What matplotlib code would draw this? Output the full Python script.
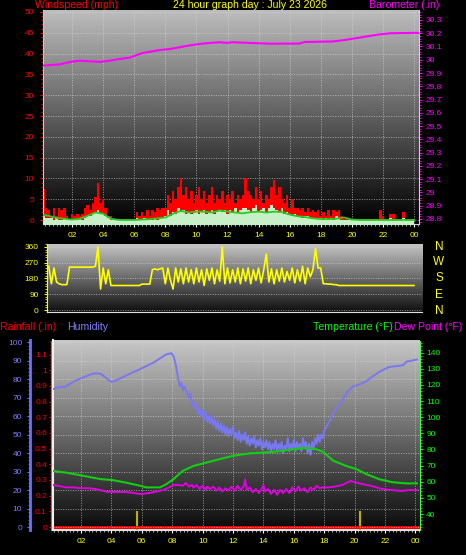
import numpy as np
import matplotlib
matplotlib.use('Agg')
import matplotlib.pyplot as plt
from matplotlib.ticker import MultipleLocator, FixedLocator

plt.rcParams['font.family'] = ['Liberation Sans', 'DejaVu Sans']

# ---------------- data ----------------
tick_hours = [2, 4, 6, 8, 10, 12, 14, 16, 18, 20, 22, 24]
tick_labels = ['02', '04', '06', '08', '10', '12', '14', '16', '18', '20', '22', '00']

# wind, 10-minute samples from 00:00 to 24:00
wind_gust = [3, 7.5, 3, 2.5, 1, 3, 1, 3, 2.5, 3, 1,
             0, 1.5, 1, 1.5, 1, 1.5,
             3, 3.5, 2.5, 4, 5.5, 9, 4, 5, 3, 1, 1,
             0, 0, 0, 0, 0, 0, 0, 0, 0,
             2, 1, 2, 1, 2.5, 1, 2.5, 2, 3, 2.5, 3,
             3, 6, 4, 7, 5, 8, 10, 6, 8, 5, 7, 4, 6,
             8, 5, 7, 4, 6, 8, 4, 6, 5, 7, 4, 6,
             5, 7, 4, 6, 5, 6, 10, 7, 6, 5, 8, 5,
             7, 4, 6, 5, 8, 9.5, 6, 8, 5, 4, 6,
             3, 5, 3, 3, 2.5, 3, 2, 3, 2, 2.5, 2, 2.5, 1, 2, 1, 2.5, 1, 2.5, 2, 2.5, 1,
             0, 0, 0, 0, 0, 0, 0, 0, 0, 0, 0, 0, 0, 0,
             2.5, 1, 0, 0, 1.5, 1.5, 0, 0, 0, 2, 0, 0, 0, 0]
wind_avg = [1.5, 1, 0.5, 0.5,
            0.5, 0, 0.5, 0, 0, 0.5, 0,
            0, 0, 0, 0, 0.5, 0,
            0.5, 1, 1, 1.5, 2, 2.5, 1.5, 1.5, 1,
            0.5, 0, 0, 0, 0, 0, 0, 0, 0, 0, 0,
            0.5, 0, 0, 0.5, 0, 0, 0, 0.5, 0, 0.5, 0.5,
            1, 2.5, 1, 2, 1.5, 3, 2, 2.5, 1.5, 2, 1.5, 2, 2.5,
            1.5, 2, 2.5, 1.5, 2, 2.5, 1.5, 2, 2.5, 2, 2.5, 1.5, 2.5, 2, 3, 2, 2.5, 3,
            3, 2.5, 2, 3, 3.5, 2, 2.5, 3, 2, 3, 3.5, 3, 2.5, 2, 3, 1.5, 2,
            1.5, 1, 1.5, 1, 1, 0.5, 1, 1, 0.5, 0.5, 0.5, 0.5, 0.5, 0, 0.5, 0, 0.5, 0, 1, 0.5, 0,
            0, 0, 0, 0, 0, 0, 0, 0, 0, 0, 0, 0, 0, 0, 0, 0, 0, 0, 0.5, 0, 0, 0, 0, 0.5, 0, 0, 0, 0]
# smoothed average wind, 30-minute samples
wind_line = [1.3, 1.0, 0.5, 0.3, 0.1, 0.3, 1.0, 1.8, 1.5, 0.3, 0, 0, 0, 0.1, 0.2, 0.4,
             0.6, 1.5, 2.2, 1.8, 2.0, 2.0, 1.8, 2.3, 2.0, 1.8, 1.6, 1.9, 2.0, 1.8, 2.0, 1.9,
             1.3, 0.9, 0.7, 0.4, 0.2, 0.2, 0.3, 0.6, 0.1, 0, 0, 0, 0, 0, 0, 0, 0]
wind_dir = [250, 255, 250, 250, 150, 240, 160, 150, 145, 145, 145,
            245, 245, 245, 245, 245, 245, 245, 245, 245, 245,
            250, 360, 120, 240, 150, 230, 140,
            140, 140, 140, 140, 140, 140, 140, 140, 140, 140, 140,
            148, 148, 148, 148,
            230, 235, 230, 235, 240,
            150, 240, 170, 120, 240, 160, 235, 150, 240, 160, 230, 150,
            240, 160, 230, 140, 235, 170, 240, 150, 230, 165, 360, 150,
            240, 155, 230, 160, 240, 150, 235, 165, 240, 150, 230, 170,
            240, 155, 230, 320, 160, 235, 150, 230, 165, 240, 160, 220,
            170, 240, 155, 230, 165, 250, 150, 240, 190, 230, 350, 240,
            240, 150, 150, 148, 148, 145, 145, 140,
            140, 140, 140, 140, 140, 140, 140, 140, 140, 140, 140, 140, 140, 140, 140,
            140, 140, 140, 140, 140, 140, 140, 140, 140, 140, 140, 140, 140, 140]

baro_hours = [0.13, 1.2, 1.9, 2.5, 3.0, 3.8, 4.3, 5.1, 5.7, 6.4, 7.0, 7.7, 8.3, 8.9, 9.6,
              10.2, 10.9, 11.5, 11.9, 12.35, 13.0, 14.7, 16.6, 17.0, 18.8, 19.6, 20.5,
              21.7, 22.5, 24.3]
baro_vals = [29.956, 29.965, 29.984, 29.993, 29.989, 29.984, 29.991, 30.006, 30.016,
             30.046, 30.061, 30.074, 30.081, 30.094, 30.109, 30.119, 30.127, 30.132,
             30.127, 30.132, 30.129, 30.121, 30.122, 30.134, 30.138, 30.150, 30.167,
             30.190, 30.200, 30.203]
baro_ticks = [28.8, 28.9, 29.0, 29.1, 29.2, 29.3, 29.4, 29.5, 29.6, 29.7, 29.8, 29.9,
              30.0, 30.1, 30.2, 30.3]
baro_labels = ['28.8', '28.9', '29', '29.1', '29.2', '29.3', '29.4', '29.5', '29.6',
               '29.7', '29.8', '29.9', '30', '30.1', '30.2', '30.3']

hum_hours = [0.15, 0.5, 1.0, 1.5, 2.0, 2.5, 2.8, 3.25, 3.6, 3.8, 4.0, 4.3, 4.6, 5.0, 5.4,
             5.8, 6.3, 6.8, 7.2, 7.6, 7.95, 8.1, 8.25, 8.4, 8.5, 8.6, 8.7, 8.8, 8.95,
             9.1, 9.2, 9.3, 9.4, 9.5, 9.6, 9.7, 9.8, 9.9, 10.0, 10.1, 10.2, 10.3, 10.4,
             10.5, 10.6, 10.7, 10.8, 10.9, 11.0, 11.1, 11.2, 11.3, 11.4, 11.5, 11.6,
             11.7, 11.8, 11.9, 12.0, 12.1, 12.2, 12.3, 12.4, 12.5, 12.6, 12.7, 12.8,
             12.9, 13.0, 13.1, 13.2, 13.3, 13.4, 13.5, 13.6, 13.7, 13.8, 13.9, 14.0,
             14.1, 14.2, 14.3, 14.4, 14.5, 14.6, 14.7, 14.8, 14.9, 15.0, 15.1, 15.2,
             15.3, 15.4, 15.5, 15.6, 15.7, 15.8, 15.9, 16.0, 16.1, 16.2, 16.3, 16.4,
             16.5, 16.6, 16.7, 16.8, 16.9, 17.0, 17.1, 17.2, 17.3, 17.4, 17.5, 17.6,
             17.7, 17.8, 17.9, 18.0, 18.2, 18.4, 18.6, 18.8, 19.0, 19.3, 19.6, 19.9,
             20.3, 20.8, 21.2, 21.65, 22.0, 22.3, 22.8, 23.2, 23.4, 23.8, 24.1]
hum_vals = [74.5, 75.5, 76, 78.5, 80.5, 82, 83, 83, 81, 79.5, 78.5, 79.2, 80.4, 82, 83.6,
            85, 87, 89, 91.2, 93.3, 94, 92, 87, 80, 76, 78, 74, 76, 73,
            70, 72, 66, 68, 64, 66, 61, 64, 60, 63, 58, 62, 57, 60,
            56, 60, 55, 58, 53, 57, 52, 56, 51, 55, 50, 54,
            49, 53, 50, 54, 48, 51, 47, 52, 46, 50, 47, 51,
            45, 49, 44, 48, 45, 49, 43, 47, 44, 48, 42, 46,
            43, 47, 42, 46, 41, 45, 42, 47, 41, 45, 42, 46,
            40, 44, 42, 48, 41, 45, 42, 47, 41, 46, 42, 45,
            41, 48, 43, 46, 40, 45, 39, 46, 42, 48, 45, 50,
            46, 50, 48, 52, 55, 58, 62, 64, 66, 70, 74, 76,
            77, 79, 81.5, 84, 85.5, 86.6, 87, 87.5, 89.4, 90, 90.5]

temp_hours = [0.15, 1.06, 2.15, 3.25, 4.1, 5.0, 5.9, 6.3, 7.2, 7.6, 8.07, 8.7, 9.4, 10.3,
              11.15, 12.0, 13.1, 14.2, 15.3, 16.4, 17.0, 17.5, 17.9, 18.6, 19.45, 20.1,
              20.8, 21.65, 22.5, 23.4, 24.1]
temp_vals = [66.7, 65.6, 63.7, 61.7, 61, 59.4, 57.5, 56.5, 56.5, 58.4, 61.5, 66.8, 69.8, 72,
             74.1, 76.1, 77.6, 78.2, 79.2, 80.7, 80.8, 80.1, 78.7, 73, 69.8, 67.9,
             64.6, 61.5, 59.7, 59, 59]

dew_hours = [0.15, 0.5, 1.0, 1.5, 2.0, 2.5, 2.8, 3.2, 3.7, 4.2, 5.0, 5.5, 5.9, 6.5, 7.0,
             7.4, 7.8, 8.07, 8.4, 8.7, 8.9, 9.1, 9.3, 9.4, 9.6, 9.8, 10.0, 10.2, 10.3,
             10.5, 10.7, 10.9, 11.1, 11.3, 11.5, 11.7, 11.9, 12.1, 12.3, 12.5, 12.7,
             12.8, 12.9, 13.1, 13.3, 13.5, 13.7, 13.9, 14.0, 14.1, 14.3, 14.5, 14.7,
             14.9, 15.1, 15.3, 15.5, 15.7, 15.9, 16.1, 16.3, 16.5, 16.7, 16.9, 17.1,
             17.3, 17.5, 17.7, 17.9, 18.3, 18.7, 19.2, 19.5, 19.75, 20.3, 20.8, 21.2,
             21.6, 22.0, 22.5, 23.1, 23.5, 24.1]
dew_vals = [58, 57.5, 56.5, 56.5, 56, 56, 55.7, 55, 53.8, 53.7, 53.6, 53, 52.4, 53, 54,
            54.9, 56.5, 58, 58, 57.5, 59.3, 57, 58, 56.3, 58, 55.5, 57.5, 55, 57,
            55.5, 57, 54.5, 56.5, 54, 56, 54.5, 57, 54.5, 57.5, 55, 57,
            61.5, 55, 56.5, 53.5, 55.5, 53, 56, 58, 54, 55.5, 52.5, 55,
            52, 55, 53, 55.5, 53, 56.5, 54, 57, 54.5, 56, 53.5, 56.5,
            55, 57.5, 56, 56.5, 56.5, 57, 58, 59.5, 60.5, 59, 58, 57.2,
            56, 55.3, 54.8, 54.3, 54.8, 54.9]

rain_hours = [0, 24.5]
rain_vals = [0, 0]
rain_ticks = [0, 0.1, 0.2, 0.3, 0.4, 0.5, 0.6, 0.7, 0.8, 0.9, 1.0, 1.1]
rain_labels = ['0', '0.1', '0.2', '0.3', '0.4', '0.5', '0.6', '0.7', '0.8', '0.9', '1', '1.1']
tip_hours = [5.66, 20.33]
tip_vals = [0.1, 0.1]

# ---------------- figure ----------------
W, H = 466, 555
fig = plt.figure(figsize=(W / 100, H / 100), dpi=100, facecolor='black')


def px_axes(x0, y0, x1, y1):
    return fig.add_axes([x0 / W, 1 - y1 / H, (x1 - x0) / W, (y1 - y0) / H])


def gradient(ax, top, bottom):
    g = np.linspace(top, bottom, 256).reshape(-1, 1)
    ax.imshow(g, cmap='gray', vmin=0, vmax=1, extent=[0, 1, 0, 1],
              transform=ax.transAxes, aspect='auto', zorder=0,
              interpolation='bilinear')


def ftext(x, y, s, color, size=7.6, ha='left'):
    fig.text(x / W, 1 - y / H, s, color=color, fontsize=size, ha=ha, va='center')


GRID = dict(color='#d8d8d8', ls=(0, (1, 1.5)), lw=0.7, alpha=0.65)
TS = 6

# ---- top panel: wind speed + barometer ----
ax1 = px_axes(43, 10, 419, 224)
gradient(ax1, 0.74, 0.0)
hrs10 = np.arange(len(wind_gust)) / 6.0
hrs30 = np.arange(len(wind_line)) / 2.0
ax1.fill_between(hrs10, 0, wind_gust, step='mid', color='#ff0000', lw=0, zorder=2)
ax1.plot(hrs10, np.zeros(len(hrs10)), color='#ff0000', lw=1.5, zorder=2)
ax1.fill_between(hrs10, -5, wind_avg, step='mid', color='#c8f0c8', lw=0, zorder=3)
ax1.plot(hrs30, wind_line, color='#20d020', lw=1.3, zorder=4)
ax1.set_xlim(0.129, 24.32)
ax1.set_ylim(-0.96, 50.48)
ax1.set_axisbelow(True)
ax1.set_yticks(range(0, 51, 5))
ax1.yaxis.set_minor_locator(MultipleLocator(1))
ax1.xaxis.set_major_locator(FixedLocator(tick_hours))
ax1.set_xticklabels(tick_labels)
ax1.xaxis.set_minor_locator(MultipleLocator(0.25))
ax1.tick_params(axis='x', which='major', color='white', labelcolor='#ffff00',
                length=2, pad=4, labelsize=TS)
ax1.tick_params(axis='x', which='minor', color='#c0c0c0', length=1.5)
ax1.tick_params(axis='y', which='major', color='#ff0000', labelcolor='#ff0000',
                length=2.5, pad=4, labelsize=TS)
ax1.tick_params(axis='y', which='minor', color='#ff0000', length=1.5)
ax1.grid(True, which='major', **GRID)
for s in ['left', 'bottom']:
    ax1.spines[s].set_color('#d0d0d0')
ax1.spines['top'].set_visible(False)
ax1.spines['right'].set_visible(False)

ax1b = ax1.twinx()
ax1b.plot(baro_hours, baro_vals, color='#ff00ff', lw=1.5, zorder=5)
ax1b.set_ylim(28.762, 30.375)
ax1b.yaxis.set_major_locator(FixedLocator(baro_ticks))
ax1b.set_yticklabels(baro_labels)
ax1b.yaxis.set_minor_locator(MultipleLocator(0.02))
ax1b.tick_params(axis='y', which='major', color='#ff00ff', labelcolor='#ff00ff',
                 length=2.5, pad=2.5, labelsize=TS)
ax1b.tick_params(axis='y', which='minor', color='#ff00ff', length=1.5)
for s in ['left', 'top', 'bottom']:
    ax1b.spines[s].set_visible(False)
ax1b.spines['right'].set_color('#ffb0ff')

# ---- middle panel: wind direction ----
ax2 = px_axes(47, 244, 422, 312)
gradient(ax2, 0.77, 0.06)
ax2.plot(hrs10, wind_dir, color='#ffff00', lw=1.2, zorder=3)
ax2.set_xlim(0.386, 24.52)
ax2.set_ylim(-11.4, 377)
ax2.set_axisbelow(True)
ax2.set_yticks([0, 90, 180, 270, 360])
ax2.yaxis.set_minor_locator(MultipleLocator(15))
ax2.set_xticks([])
ax2.tick_params(axis='y', which='major', color='#ffff00', labelcolor='#ffff00',
                length=2.5, pad=3.5, labelsize=TS)
ax2.tick_params(axis='y', which='minor', color='#ffff00', length=1.5)
ax2.grid(True, axis='y', **GRID)
for s in ['left', 'bottom']:
    ax2.spines[s].set_color('#e0e0e0')
ax2.spines['top'].set_visible(False)
ax2.spines['right'].set_visible(False)
for lab, yy in zip(['N', 'W', 'S', 'E', 'N'], [247, 262, 278, 295, 311]):
    ftext(439, yy, lab, '#ffff00', size=8.5, ha='center')

# ---- bottom panel: rain / humidity / temperature / dew point ----
ax3 = px_axes(53, 340, 420, 530)
gradient(ax3, 0.78, 0.04)
ax3.plot(rain_hours, rain_vals, color='#ff0000', lw=2, zorder=6)
ax3.vlines(tip_hours, -0.05, tip_vals, color='#c0b000', lw=1.5, zorder=5)
ax3.set_xlim(0.158, 24.3)
ax3.set_ylim(-0.019, 1.193)
ax3.set_axisbelow(True)
ax3.yaxis.set_major_locator(FixedLocator(rain_ticks))
ax3.set_yticklabels(rain_labels)
ax3.yaxis.set_minor_locator(MultipleLocator(0.02))
ax3.xaxis.set_major_locator(FixedLocator(tick_hours))
ax3.set_xticklabels(tick_labels)
ax3.xaxis.set_minor_locator(MultipleLocator(0.25))
ax3.tick_params(axis='x', which='major', color='white', labelcolor='#ffff00',
                length=2, pad=4, labelsize=TS)
ax3.tick_params(axis='x', which='minor', color='#c0c0c0', length=1.5)
ax3.tick_params(axis='y', which='major', color='#ff0000', labelcolor='#ff0000',
                length=1.5, pad=1.4, labelsize=TS)
ax3.tick_params(axis='y', which='minor', color='#ff0000', length=1)
ax3.grid(True, axis='x', **GRID)
ax3.spines['left'].set_position(('outward', 1.5))
ax3.spines['left'].set_color('#ff4040')
ax3.spines['left'].set_linestyle((0, (2, 1)))
ax3.spines['bottom'].set_color('#e0e0e0')
ax3.spines['bottom'].set_linewidth(1.5)
ax3.spines['top'].set_visible(False)
ax3.spines['right'].set_visible(False)
ax3.plot([0, 0], [0, 1], transform=ax3.transAxes, color='#f0f0f0', lw=1.5,
         clip_on=False, zorder=7)

ax3h = ax3.twinx()
ax3h.plot(hum_hours, hum_vals, color='#7878f0', lw=1.4, zorder=3)
ax3h.set_ylim(-1.62, 101.1)
ax3h.set_yticks(range(0, 101, 10))
ax3h.yaxis.set_minor_locator(MultipleLocator(2))
ax3h.yaxis.set_ticks_position('left')
ax3h.yaxis.set_label_position('left')
for s in ['right', 'top', 'bottom']:
    ax3h.spines[s].set_visible(False)
ax3h.spines['left'].set_visible(True)
ax3h.spines['left'].set_position(('outward', 16.6))
ax3h.spines['left'].set_color('#7070ff')
ax3h.spines['left'].set_linewidth(2)
ax3h.tick_params(axis='y', which='major', color='#7070ff', labelcolor='#8080ff',
                 length=2.5, pad=3, labelsize=TS)
ax3h.tick_params(axis='y', which='minor', color='#7070ff', length=1.5)
ax3h.grid(True, axis='y', **GRID)
ax3h.set_axisbelow(True)

ax3t = ax3.twinx()
ax3t.plot(temp_hours, temp_vals, color='#10d010', lw=1.5, zorder=4)
ax3t.plot(dew_hours, dew_vals, color='#e000e0', lw=1.4, zorder=4)
ax3t.set_ylim(30.08, 147.9)
ax3t.set_yticks(range(40, 141, 10))
ax3t.yaxis.set_minor_locator(MultipleLocator(2))
ax3t.tick_params(axis='y', which='major', color='#00ff00', labelcolor='#00ff00',
                 length=2.5, pad=2, labelsize=TS)
ax3t.tick_params(axis='y', which='minor', color='#00ff00', length=1.5)
for s in ['left', 'top', 'bottom']:
    ax3t.spines[s].set_visible(False)
ax3t.spines['right'].set_color('#40ff40')
ax3t.spines['right'].set_linestyle((0, (2, 1)))

# ---- headers ----
ftext(35, 5.5, 'Windspeed (mph)', '#ff0000')
ftext(250, 5.5, '24 hour graph day : July 23 2026', '#ffff00', ha='center')
ftext(439, 5.5, 'Barometer (.in)', '#ff00ff', ha='right')
ftext(0, 326.5, 'Rainfall (.in)', '#ff0000')
ftext(67, 326.5, 'Humidity', '#8080ff')
ftext(313, 326.5, 'Temperature (°F)', '#00ff00')
ftext(394, 326.5, 'Dew Point (°F)', '#ff00ff')

fig.savefig('out.png', dpi=100, facecolor='black')
